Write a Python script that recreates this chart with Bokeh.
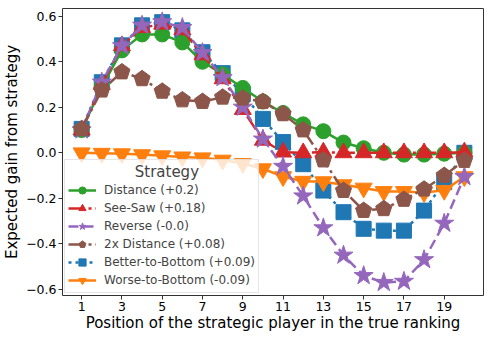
from bokeh.plotting import figure
from bokeh.models import Range1d, FixedTicker, Legend, LegendItem
from bokeh.embed import file_html
from bokeh.resources import INLINE

positions = list(range(1, 21))

distance = [0.10, 0.29, 0.45, 0.52, 0.52, 0.485, 0.40, 0.345, 0.285, 0.225,
            0.175, 0.125, 0.095, 0.045, 0.02, 0.0, -0.008, -0.008, -0.004, 0.0]
see_saw = [0.10, 0.30, 0.47, 0.55, 0.565, 0.54, 0.43, 0.325, 0.19, 0.055,
           0.003, 0.0, 0.003, 0.0, 0.0, 0.0, 0.0, 0.0, 0.0, 0.003]
reverse = [0.10, 0.31, 0.47, 0.56, 0.575, 0.55, 0.44, 0.33, 0.20, 0.06,
           -0.06, -0.19, -0.33, -0.45, -0.54, -0.57, -0.565, -0.47, -0.31, -0.105]
two_x_distance = [0.105, 0.275, 0.355, 0.325, 0.27, 0.232, 0.225, 0.244, 0.24, 0.225,
                  0.171, 0.10, -0.032, -0.166, -0.254, -0.246, -0.205, -0.16, -0.10, -0.034]
better_to_bottom = [0.105, 0.31, 0.472, 0.56, 0.574, 0.538, 0.442, 0.35, 0.259, 0.149,
                    0.047, -0.05, -0.166, -0.261, -0.334, -0.342, -0.342, -0.254, -0.129, 0.0]
worse_to_bottom = [0.0, -0.002, -0.004, -0.008, -0.013, -0.018, -0.022, -0.032, -0.047, -0.07,
                   -0.105, -0.125, -0.127, -0.14, -0.155, -0.17, -0.17, -0.175, -0.165, -0.105]

labels = ["Distance (+0.2)", "See-Saw (+0.18)", "Reverse (-0.0)",
          "2x Distance (+0.08)", "Better-to-Bottom (+0.09)", "Worse-to-Bottom (-0.09)"]

x_ticks = [1, 3, 5, 7, 9, 11, 13, 15, 17, 19]
y_ticks = [-0.6, -0.4, -0.2, 0.0, 0.2, 0.4, 0.6]
y_tick_labels = ["\u22120.6", "\u22120.4", "\u22120.2", "0.0", "0.2", "0.4", "0.6"]

FONT = "DejaVu Sans"

p = figure(frame_width=421, frame_height=287, output_backend="svg", toolbar_location=None,
           x_range=Range1d(0.05, 20.95), y_range=Range1d(-0.627, 0.634),
           min_border_left=61, min_border_right=9, min_border_top=8, min_border_bottom=42,
           background_fill_color="white", border_fill_color="white")
p.grid.visible = False
p.outline_line_color = "#333333"
p.outline_line_width = 1

p.xaxis.ticker = FixedTicker(ticks=x_ticks)
p.yaxis.ticker = FixedTicker(ticks=y_ticks)
p.yaxis.major_label_overrides = {t: l for t, l in zip(y_ticks, y_tick_labels)}
for ax in (p.xaxis, p.yaxis):
    ax.axis_line_color = None
    ax.major_tick_line_color = "#333333"
    ax.major_tick_in = 0
    ax.major_tick_out = 4
    ax.minor_tick_line_color = None
    ax.major_label_text_font = FONT
    ax.major_label_text_font_size = "12.5px"
    ax.major_label_text_color = "black"
    ax.axis_label_text_font = FONT
    ax.axis_label_text_font_size = "15px"
    ax.axis_label_text_font_style = "normal"
    ax.axis_label_text_color = "black"
p.xaxis.axis_label = "Position of the strategic player in the true ranking"
p.yaxis.axis_label = "Expected gain from strategy"
p.xaxis.major_label_standoff = 2
p.xaxis.axis_label_standoff = 0
p.yaxis.major_label_standoff = 2
p.yaxis.axis_label_standoff = 2

BLUE, ORANGE, GREEN, RED, PURPLE, BROWN = "#1f77b4", "#ff7f0e", "#2ca02c", "#d62728", "#9467bd", "#8c564b"

renderers = {}

def add_series(key, vals, color, dash, marker, size):
    rl = p.line(positions, vals, line_color=color, line_width=2.5, line_dash=dash)
    if marker == "pentagon":
        try:
            rm = p.ngon(x=positions, y=vals, radius=8.5, radius_units="screen", n=5,
                        fill_color=color, line_color=color)
        except Exception:
            rm = p.scatter(positions, vals, marker="hex", size=size,
                           fill_color=color, line_color=color)
    else:
        rm = p.scatter(positions, vals, marker=marker, size=size,
                       fill_color=color, line_color=color)
    renderers[key] = [rl, rm]

add_series("btb", better_to_bottom, BLUE, "3 4", "square", 15)
add_series("wtb", worse_to_bottom, ORANGE, "solid", "inverted_triangle", 17)
add_series("dist", distance, GREEN, "solid", "circle", 15)
add_series("ss", see_saw, RED, "16 4 3 4", "triangle", 17)
add_series("rev", reverse, PURPLE, "10 5", "star", 20)
add_series("2x", two_x_distance, BROWN, "16 4 3 4", "pentagon", 16)

order = ["dist", "ss", "rev", "2x", "btb", "wtb"]
items = [LegendItem(label=lab, renderers=renderers[k]) for k, lab in zip(order, labels)]
legend = Legend(items=items, location="bottom_left",
                title="\u00a0" * 14 + "Strategy")
legend.margin = 2
legend.padding = 3
legend.spacing = 0
legend.glyph_width = 28
legend.glyph_height = 18
legend.label_height = 18
legend.label_standoff = 8
legend.label_text_font = FONT
legend.label_text_font_size = "12px"
legend.title_text_font = FONT
legend.title_text_font_size = "15px"
legend.title_text_font_style = "normal"
legend.title_standoff = 0
legend.background_fill_alpha = 0.8
legend.border_line_color = "#cccccc"
legend.border_line_width = 1
p.add_layout(legend, "center")

open("out.html", "w").write(file_html(p, INLINE))
